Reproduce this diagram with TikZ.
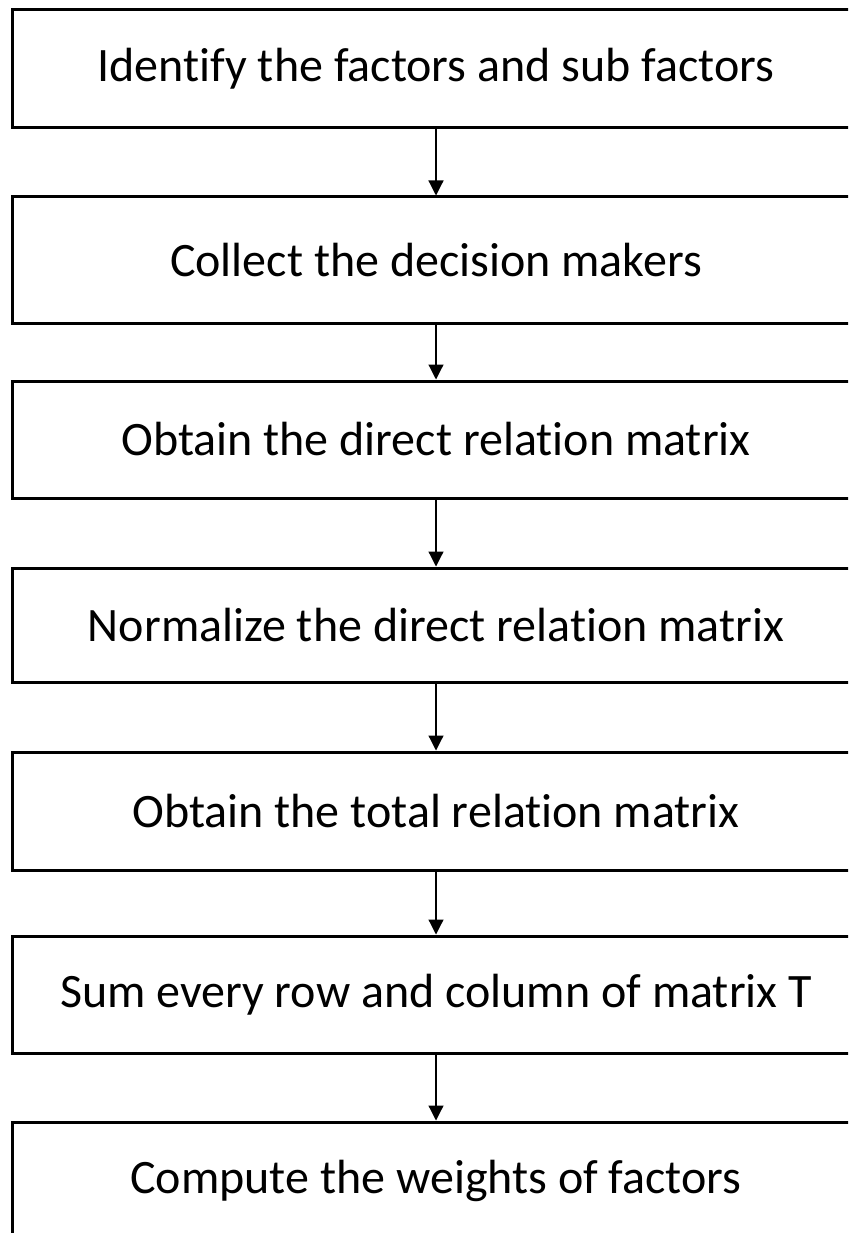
\documentclass[tikz,border=0pt]{standalone}
\usepackage{fontspec}
\setmainfont{Carlito}[Ligatures=NoCommon]
\usetikzlibrary{arrows.meta}
\begin{document}
\begin{tikzpicture}[x=1pt,y=-1pt,
  stepbox/.style={draw=black,line width=3pt,fill=white,minimum width=848pt,inner sep=0pt,font=\fontsize{48}{56}\selectfont},
  flow/.style={line width=1.2pt,-{Triangle[length=15pt,width=15pt]}}]
\useasboundingbox (0,0) rectangle (848,1233);
\clip (0,0) rectangle (848,1233);
\node[stepbox,minimum height=118pt] (s1) at (436,69) {Identify the factors and sub factors};
\node[stepbox,minimum height=126pt] (s2) at (436,260) {Collect the decision makers};
\node[stepbox,minimum height=117pt] (s3) at (436,439.5) {Obtain the direct relation matrix};
\node[stepbox,minimum height=114pt] (s4) at (436,625) {Normalize the direct relation matrix};
\node[stepbox,minimum height=118pt] (s5) at (436,811) {Obtain the total relation matrix};
\node[stepbox,minimum height=117pt] (s6) at (436,994.5) {Sum every row and column of matrix T};
\node[stepbox,minimum height=118pt] (s7) at (436,1181) {Compute the weights of factors};
\draw[flow] (s1.south) -- (s2.north);
\draw[flow] (s2.south) -- (s3.north);
\draw[flow] (s3.south) -- (s4.north);
\draw[flow] (s4.south) -- (s5.north);
\draw[flow] (s5.south) -- (s6.north);
\draw[flow] (s6.south) -- (s7.north);
\end{tikzpicture}
\end{document}
